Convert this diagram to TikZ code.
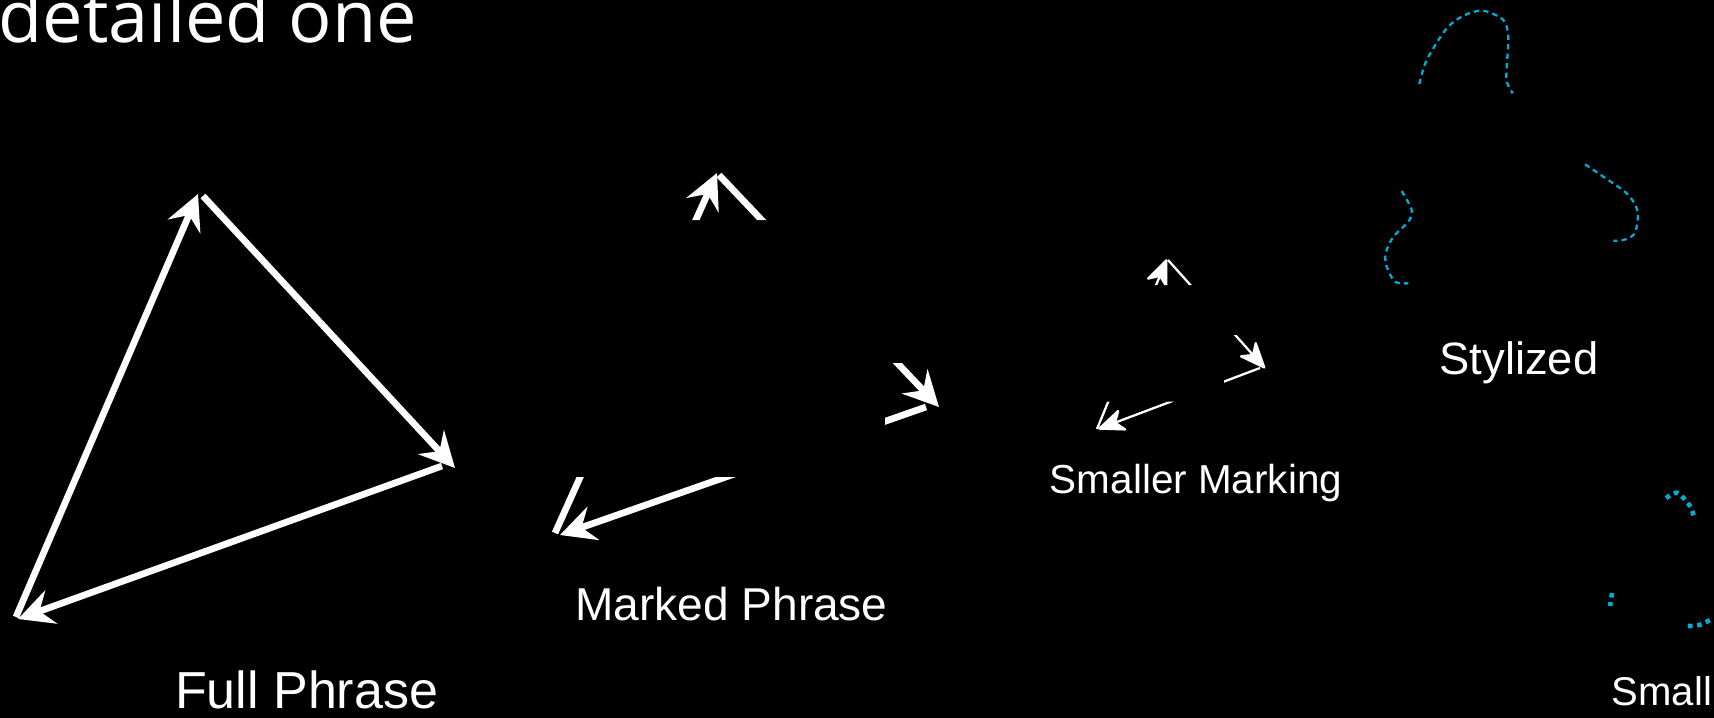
\documentclass[tikz,border=0pt]{standalone}
\usepackage{fontspec}
\setmainfont{Liberation Sans}
\newfontfamily\titlefont{Open Sans}
\usetikzlibrary{arrows.meta}
\definecolor{dashcyan}{RGB}{0,172,214}

\begin{document}
\begin{tikzpicture}[
        x=0.01cm, y=-0.01cm,
        caption/.style = {text=white, inner sep=0pt, anchor=base},
        bigarrow/.style = {draw=white, line width=1.9pt, -{Stealth[length=10pt, width=10pt, inset=3.5pt]}},
        thinarrow/.style = {draw=white, line width=0.65pt, -{Stealth[length=8.5pt, width=7pt, inset=2.5pt, round]}},
        curvydash/.style = {draw=dashcyan, line width=0.65pt, dash pattern=on 1.5pt off 1.2pt},
        squaredots/.style = {draw=dashcyan, line width=1.3pt, dash pattern=on 1.3pt off 1.3pt}
    ]

        % Background
        \fill[black] (0,0) rectangle (1714,718);
        \useasboundingbox (0,0) rectangle (1714,718);

        % Title
        \node (title) [caption, anchor=base west, font=\titlefont\fontsize{20.5}{24}\selectfont] at (-2,42) {detailed one};

        % Full phrase
        \coordinate (fullA) at (16,617);
        \coordinate (fullB) at (198,194);
        \coordinate (fullBout) at (203,196);
        \coordinate (fullC) at (455,468);
        \coordinate (fullCout) at (442,466);
        \coordinate (fullAin) at (18,619);
        \draw [bigarrow] (fullA) -- (fullB);
        \draw [bigarrow] (fullBout) -- (fullC);
        \draw [bigarrow] (fullCout) -- (fullAin);
        \node (fullLabel) [caption, font=\fontsize{14.8}{17}\selectfont] at (306.7,708) {Full Phrase};

        % Marked phrase
        \coordinate (markA) at (555,533);
        \coordinate (markB) at (717,173);
        \coordinate (markBout) at (719,175);
        \coordinate (markC) at (939,407);
        \coordinate (markCout) at (926,407);
        \coordinate (markAin) at (560,535);
        \begin{scope}
            \clip (600,120) rectangle (800,220)
                  (885,363) rectangle (960,440)
                  (500,477) rectangle (800,560);
            \draw [bigarrow] (markA) -- (markB);
            \draw [bigarrow] (markBout) -- (markC);
            \draw [bigarrow] (markCout) -- (markAin);
        \end{scope}
        \node (markLabel) [caption, font=\fontsize{13.1}{16}\selectfont] at (731.5,620) {Marked Phrase};

        % Smaller marking
        \coordinate (smallA) at (1097,429);
        \coordinate (smallB) at (1166.7,259.3);
        \coordinate (smallBout) at (1168,260);
        \coordinate (smallC) at (1265,368.3);
        \coordinate (smallCout) at (1260,368);
        \coordinate (smallAin) at (1098.3,429);
        \begin{scope}
            \clip (1100,230) rectangle (1230,285)
                  (1224,335) rectangle (1290,400)
                  (1070,401.7) rectangle (1200,450);
            \draw [thinarrow] (smallA) -- (smallB);
            \draw [thinarrow] (smallBout) -- (smallC);
            \draw [thinarrow] (smallCout) -- (smallAin);
        \end{scope}
        \node (smallerLabel) [caption, font=\fontsize{11.5}{14}\selectfont] at (1196,493) {Smaller Marking};

        % Stylized
        \draw [curvydash] plot[smooth] coordinates {(1419.3,84) (1426.7,60) (1446.7,28.3) (1465,15) (1483.3,10.7) (1503.3,20) (1508.3,36.7) (1506.7,66.7) (1506.7,81.7) (1512.7,93.3)};
        \draw [curvydash] plot[smooth] coordinates {(1585,164.3) (1603.3,176.7) (1626.7,193.3) (1636.7,208.3) (1637.3,223.3) (1633.3,235) (1623.3,240) (1613.3,240.7)};
        \draw [curvydash] plot[smooth] coordinates {(1401.7,191) (1411.7,210) (1408.3,221.7) (1393.3,236.7) (1385.7,253.3) (1386.7,266.7) (1395,281.7) (1408.3,283.3)};
        \node (stylizedLabel) [caption, font=\fontsize{12.9}{15}\selectfont] at (1519,374) {Stylized};

        % Small
        \draw [squaredots] plot[smooth] coordinates {(1666,498) (1677,492.7) (1685.3,500) (1691.3,508.3) (1694.3,519)};
        \draw [squaredots] (1612,593) -- (1610,606);
        \draw [squaredots] plot[smooth] coordinates {(1688,626) (1699.3,625) (1710,620)};
        \node (smallLabel) [caption, anchor=base west, font=\fontsize{11.4}{14}\selectfont] at (1611,705) {Small};

    \end{tikzpicture}
\end{document}
